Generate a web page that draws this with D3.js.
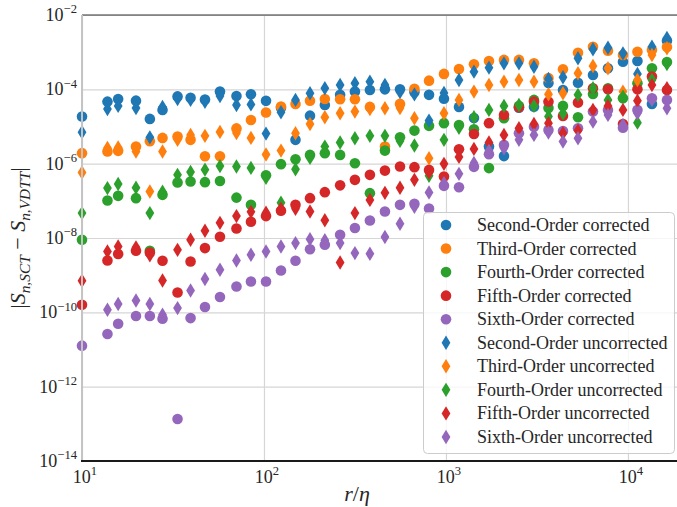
<!DOCTYPE html>
<html>
<head>
<meta charset="utf-8">
<script src="https://cdn.jsdelivr.net/npm/d3@7"></script>
<style>
  body { margin: 0; background: #fff; }
  svg { display: block; }
</style>
</head>
<body>
<svg id="chart" width="677" height="507"></svg>
<script>
// Separation r/eta at which the structure-function differences were evaluated
const separation = [10, 13.8, 15.8, 19.8, 23.6, 27.7, 33.5, 39.5, 47.4, 57.3, 70.6, 84.8, 102.6, 124, 149, 179, 216, 262, 316, 382, 462, 559, 671, 807, 975, 1179, 1425, 1723, 2083, 2518, 3045, 3658, 4395, 5314, 6424, 7767, 9388, 11276, 13547, 16381];

// |S_n,SCT - S_n,VDTT| with the correction applied
const secondCorrected = [1.85e-5, 4.67e-5, 5.5e-5, 4.96e-5, 1.6e-5, 2.8e-5, 6.45e-5, 5.9e-5, 5.35e-5, 8.7e-5, 6.6e-5, 7.4e-5, 4.9e-5, 3.2e-5, 4.37e-6, 1.96e-5, 3.8e-5, 7.1e-5, 8.7e-5, 9.6e-5, 1.0e-4, 1.0e-4, 8.5e-5, 7.1e-5, 5.6e-5, 3.37e-5, 1.7e-5, 2.9e-6, 1.6e-6, 3.2e-5, 3.4e-5, 1.49e-4, 9.6e-5, 1.51e-4, 2.44e-4, 3.7e-4, 5.55e-4, 5.8e-4, 4.05e-5, 2.04e-3];
const thirdCorrected = [1.92e-6, 2.12e-6, 2.21e-6, 2.88e-6, 4.03e-6, 4.94e-6, 5.4e-6, 4.37e-6, 1.59e-6, 1.59e-6, 8.9e-6, 1.5e-5, 2.39e-5, 3.43e-5, 4.05e-5, 4.96e-5, 5.5e-5, 5.4e-5, 5.4e-5, 3.37e-5, 2.88e-6, 4.05e-5, 1.04e-4, 1.71e-4, 2.6e-4, 3.54e-4, 4.73e-4, 5.8e-4, 6.2e-4, 6.2e-4, 5.0e-4, 2.02e-4, 3.47e-4, 9.65e-4, 1.4e-3, 1.1e-3, 8.4e-4, 1.03e-3, 1.15e-3, 1.38e-3];
const fourthCorrected = [8.95e-9, 1.02e-7, 1.36e-7, 1.18e-7, 4.53e-9, 1.45e-7, 3.1e-7, 3.3e-7, 3.18e-7, 3.41e-7, 1.22e-7, 7.8e-8, 4.9e-7, 9.7e-7, 1.32e-6, 1.72e-6, 1.92e-6, 1.72e-6, 1.03e-6, 1.61e-7, 2.25e-6, 5.15e-6, 7.75e-6, 1.04e-5, 1.23e-5, 1.1e-5, 8.4e-6, 7.6e-7, 1.67e-5, 3.58e-5, 5.2e-5, 3.16e-5, 3.58e-5, 1.78e-5, 7.5e-5, 1.07e-4, 5.77e-5, 1.46e-4, 3.7e-4, 5.45e-4];
const fifthCorrected = [1.6e-10, 2.49e-9, 3.7e-9, 4.53e-9, 4.07e-9, 2.44e-9, 3.43e-10, 2.33e-9, 5.35e-9, 1.08e-8, 1.8e-8, 2.73e-8, 3.88e-8, 5.4e-8, 7.8e-8, 1.18e-7, 1.71e-7, 2.61e-7, 3.67e-7, 5.0e-7, 6.5e-7, 8.4e-7, 8.05e-7, 6.8e-7, 4.5e-7, 2.45e-6, 6.3e-6, 1.23e-5, 2.05e-5, 3.3e-5, 4.67e-5, 4.67e-5, 1.93e-5, 4.4e-5, 1.07e-4, 1.0e-4, 1.17e-5, 1.0e-4, 2.2e-4, 9.6e-5];
const sixthCorrected = [1.27e-11, 2.61e-11, 4.94e-11, 7.95e-11, 7.95e-11, 6.7e-11, 1.35e-13, 7.0e-11, 1.39e-10, 2.58e-10, 4.96e-10, 6.77e-10, 6.77e-10, 1.34e-9, 2.44e-9, 5.0e-9, 6.56e-9, 1.22e-8, 1.85e-8, 2.95e-8, 5.15e-8, 7.8e-8, 8.3e-8, 6.2e-8, 2.53e-7, 2.33e-7, 8.2e-7, 1.8e-6, 3.2e-6, 6.6e-6, 9.9e-6, 8.1e-6, 7.6e-6, 9.0e-6, 2.52e-5, 2.8e-5, 9.3e-6, 2.8e-5, 5.77e-5, 5.2e-5];

// Same differences without the correction
const secondUncorrected = [7.0e-6, 2.97e-5, 3.58e-5, 3.16e-5, 5.1e-6, 3.37e-5, 5.5e-5, 5.2e-5, 4.6e-5, 6.6e-5, 3.8e-5, 3.93e-5, 6.45e-6, 2.42e-5, 5.2e-5, 7.85e-5, 1.07e-4, 1.31e-4, 1.46e-4, 1.61e-4, 1.31e-4, 8.5e-5, 7.3e-5, 1.44e-5, 8.0e-5, 1.79e-4, 2.99e-4, 3.83e-4, 5.0e-4, 5.0e-4, 4.07e-4, 1.9e-4, 2.12e-4, 6.85e-4, 1.2e-3, 1.32e-3, 9.3e-4, 2.6e-4, 1.4e-3, 2.4e-3];
const thirdUncorrected = [5.77e-7, 2.66e-6, 2.74e-6, 2.12e-6, 1.78e-7, 2.12e-6, 4.37e-6, 5.95e-6, 5.6e-6, 7.15e-6, 6.7e-6, 4.94e-6, 1.76e-6, 2.25e-6, 6.6e-6, 1.17e-5, 1.78e-5, 2.28e-5, 2.52e-5, 2.97e-5, 3.1e-5, 3.16e-5, 1.67e-5, 1.4e-6, 2.28e-5, 5.2e-5, 8.7e-5, 1.31e-4, 1.61e-4, 1.79e-4, 1.61e-4, 7.4e-5, 7.85e-5, 2.71e-4, 4.26e-4, 3.7e-4, 8.7e-5, 1.79e-4, 8.4e-4, 1.27e-3];
const fourthUncorrected = [4.67e-8, 2.2e-7, 2.83e-7, 2.26e-7, 4.67e-8, 1.75e-7, 5.0e-7, 5.95e-7, 6.9e-7, 8.6e-7, 8.4e-7, 7.7e-7, 4.15e-7, 8.85e-8, 7.1e-7, 1.43e-6, 2.88e-6, 3.7e-6, 4.85e-6, 5.6e-6, 5.6e-6, 4.1e-6, 3.07e-6, 4.7e-7, 4.37e-6, 9.2e-6, 1.78e-5, 2.8e-5, 3.58e-5, 3.8e-5, 3.58e-5, 1.85e-5, 2.28e-5, 7.1e-5, 1.07e-4, 5.2e-5, 6.35e-5, 1.27e-5, 1.79e-4, 4.8e-4];
const fifthUncorrected = [7.1e-10, 4.34e-9, 5.9e-9, 5.6e-9, 3.43e-9, 7.2e-10, 4.8e-9, 8.95e-9, 1.56e-8, 2.56e-8, 3.88e-8, 5.06e-8, 4.76e-8, 6.1e-8, 6.1e-8, 5.15e-8, 2.99e-8, 2.19e-9, 4.67e-8, 1.06e-7, 1.64e-7, 2.24e-7, 3.67e-7, 5.77e-7, 9.9e-7, 1.52e-6, 2.5e-6, 3.7e-6, 5.95e-6, 9.0e-6, 1.17e-5, 1.23e-5, 6.6e-6, 7.75e-6, 2.8e-5, 3.58e-5, 2.8e-5, 4.96e-5, 1.31e-4, 1.07e-4];
const sixthUncorrected = [null, 1.17e-10, 1.67e-10, 2.09e-10, 1.67e-10, 8.6e-11, 1.3e-10, 3.88e-10, 7.85e-10, 1.4e-9, 2.49e-9, 3.54e-9, 4.34e-9, 5.9e-9, 7.3e-9, 9.3e-9, 8.7e-9, 7.3e-9, 3.93e-9, 3.76e-9, 1.06e-8, 2.41e-8, 6.9e-8, 1.67e-7, 2.99e-7, 5.32e-7, 1.05e-6, 2.21e-6, 2.61e-6, 4.37e-6, 5.95e-6, 6.85e-6, 3.93e-6, 4.85e-6, 1.35e-5, 2.05e-5, 1.1e-5, 2.28e-5, 5.2e-5, 3.1e-5];

const orderNames = ["Second", "Third", "Fourth", "Fifth", "Sixth"];
const orderColors = ["#1f77b4", "#ff7f0e", "#2ca02c", "#d62728", "#9467bd"];
const correctedSets = [secondCorrected, thirdCorrected, fourthCorrected, fifthCorrected, sixthCorrected];
const uncorrectedSets = [secondUncorrected, thirdUncorrected, fourthUncorrected, fifthUncorrected, sixthUncorrected];

const xTicks = [1e1, 1e2, 1e3, 1e4];
const yTicks = [1e-2, 1e-4, 1e-6, 1e-8, 1e-10, 1e-12, 1e-14];

// ---- layout ----
const plot = { left: 82, right: 677, top: 15, bottom: 461 };
const serif = "'Liberation Serif', 'Times New Roman', serif";

const x = d3.scaleLog().domain([10, 18600]).range([plot.left, plot.right]);
const y = d3.scaleLog().domain([1e-14, 1e-2]).range([plot.bottom, plot.top]);

const svg = d3.select("#chart");

// grid lines through the library's axes
const xGrid = svg.append("g")
  .attr("transform", `translate(0,${plot.bottom})`)
  .call(d3.axisBottom(x).tickValues(xTicks).tickSize(-(plot.bottom - plot.top)).tickFormat(""));
xGrid.select(".domain").remove();
xGrid.selectAll("line").attr("stroke", "#d6d6d6").attr("stroke-width", 1.2);

const yGrid = svg.append("g")
  .attr("transform", `translate(${plot.left},0)`)
  .call(d3.axisLeft(y).tickValues(yTicks).tickSize(-(plot.right - plot.left)).tickFormat(""));
yGrid.select(".domain").remove();
yGrid.selectAll("line").attr("stroke", "#d6d6d6").attr("stroke-width", 1.2);

// markers
const circleR = 5.3;
const diamondHalfH = 7.2, diamondHalfW = 4.4;
const diamondPath = `M0,${-diamondHalfH}L${diamondHalfW},0L0,${diamondHalfH}L${-diamondHalfW},0Z`;

const points = svg.append("g");
correctedSets.forEach((vals, i) => {
  points.append("g").selectAll("circle")
    .data(vals.map((v, j) => ({ r: separation[j], v })).filter(d => d.v != null))
    .join("circle")
    .attr("cx", d => x(d.r))
    .attr("cy", d => y(d.v))
    .attr("r", circleR)
    .attr("fill", orderColors[i]);
});
uncorrectedSets.forEach((vals, i) => {
  points.append("g").selectAll("path")
    .data(vals.map((v, j) => ({ r: separation[j], v })).filter(d => d.v != null))
    .join("path")
    .attr("transform", d => `translate(${x(d.r)},${y(d.v)})`)
    .attr("d", diamondPath)
    .attr("fill", orderColors[i]);
});

// spines
svg.append("line").attr("x1", plot.left).attr("x2", plot.right).attr("y1", plot.top).attr("y2", plot.top)
  .attr("stroke", "#333").attr("stroke-width", 1.2);
svg.append("line").attr("x1", plot.left).attr("x2", plot.left).attr("y1", plot.top).attr("y2", plot.bottom)
  .attr("stroke", "#c4c4c4").attr("stroke-width", 2);
svg.append("line").attr("x1", plot.left - 1).attr("x2", plot.right).attr("y1", plot.bottom).attr("y2", plot.bottom)
  .attr("stroke", "#1a1a1a").attr("stroke-width", 2.2);

// power-of-ten tick labels
const tickSize = 18;
function powerLabel(sel, value) {
  const e = Math.round(Math.log10(value));
  sel.append("tspan").text("10");
  sel.append("tspan")
    .attr("dy", -0.42 * tickSize)
    .attr("font-size", tickSize * 0.7)
    .text(e < 0 ? "\u2212" + (-e) : String(e));
}

svg.append("g").selectAll("text")
  .data(yTicks)
  .join("text")
  .attr("x", plot.left - 5)
  .attr("y", d => y(d) + 6)
  .attr("text-anchor", "end")
  .attr("font-family", serif)
  .attr("font-size", tickSize)
  .attr("fill", "#262626")
  .each(function (d) { powerLabel(d3.select(this), d); });

svg.append("g").selectAll("text")
  .data(xTicks)
  .join("text")
  .attr("x", d => x(d) + 3)
  .attr("y", plot.bottom + 22)
  .attr("text-anchor", "middle")
  .attr("font-family", serif)
  .attr("font-size", tickSize)
  .attr("fill", "#262626")
  .each(function (d) { powerLabel(d3.select(this), d); });

// axis titles
const labelSize = 22;
const xl = svg.append("text")
  .attr("x", 357).attr("y", 501)
  .attr("text-anchor", "middle")
  .attr("font-family", serif).attr("font-size", labelSize).attr("fill", "#262626");
xl.append("tspan").attr("font-style", "italic").text("r");
xl.append("tspan").text("/");
xl.append("tspan").attr("font-style", "italic").text("\u03b7");

const yl = svg.append("text")
  .attr("transform", `translate(25,${(plot.top + plot.bottom) / 2}) rotate(-90)`)
  .attr("text-anchor", "middle")
  .attr("font-family", serif).attr("font-size", labelSize).attr("fill", "#262626");
const sub = labelSize * 0.7;
yl.append("tspan").text("|");
yl.append("tspan").attr("font-style", "italic").text("S");
yl.append("tspan").attr("font-style", "italic").attr("font-size", sub).attr("dy", 5).text("n,SCT");
yl.append("tspan").attr("dy", -5).text(" \u2212 ");
yl.append("tspan").attr("font-style", "italic").text("S");
yl.append("tspan").attr("font-style", "italic").attr("font-size", sub).attr("dy", 5).text("n,VDTT");
yl.append("tspan").attr("dy", -5).text("|");

// legend
const legendItems = [
  ...orderNames.map((n, i) => ({ label: `${n}-Order corrected`, color: orderColors[i], shape: "circle" })),
  ...orderNames.map((n, i) => ({ label: `${n}-Order uncorrected`, color: orderColors[i], shape: "diamond" }))
];
const legend = svg.append("g");
legend.append("rect")
  .attr("x", 423.5).attr("y", 212.5).attr("width", 251).attr("height", 241)
  .attr("rx", 4).attr("ry", 4)
  .attr("fill", "#fff").attr("fill-opacity", 0.8)
  .attr("stroke", "#cccccc").attr("stroke-width", 1);
const rowStep = 23.55;
const rows = legend.selectAll("g.row")
  .data(legendItems)
  .join("g")
  .attr("class", "row")
  .attr("transform", (d, i) => `translate(446,${225 + i * rowStep})`);
rows.each(function (d) {
  const g = d3.select(this);
  if (d.shape === "circle") {
    g.append("circle").attr("r", circleR).attr("fill", d.color);
  } else {
    g.append("path").attr("d", diamondPath).attr("fill", d.color);
  }
});
rows.append("text")
  .attr("x", 31)
  .attr("y", 6)
  .attr("font-family", serif)
  .attr("font-size", 18)
  .attr("fill", "#262626")
  .text(d => d.label);
</script>
</body>
</html>
